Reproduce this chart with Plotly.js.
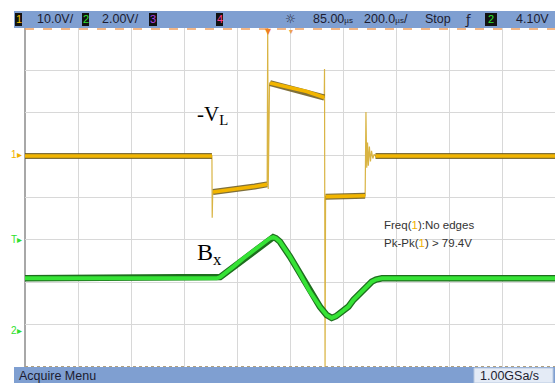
<!DOCTYPE html>
<html>
<head>
<meta charset="utf-8">
<script src="https://cdn.plot.ly/plotly-3.0.1.min.js"></script>
<style>html,body{margin:0;padding:0;background:#fff;}#chart{width:555px;height:383px;}</style>
</head>
<body>
<div id="chart"></div>
<script>
// Time axis in microseconds (200 us/div, delay 85 us)
// Channel 1 (-V_L), 10 V/div : flat levels (thick trace)
const ch1LevelT = [-915, -211, null, -207, -150, -100, -50, -3, null, 8, 83, 146, 212, null, 217, 300, 366, null, 405, 1081];
const ch1LevelV = [-0.2, -0.2, null, -8.7, -8.3, -7.9, -7.4, -6.9, null, 17.0, 15.8, 15.0, 13.6, null, -9.8, -9.7, -9.6, null, -0.2, -0.2];
// Channel 1 full path incl. switching edges and spikes (thin trace)
const ch1EdgeT = [-915, -211, -210, -208, -3, -1, 1, 6, 212, 213, 215, 217, 366, 369, 372, 375, 378, 382, 386, 390, 395, 400, 405, 1081];
const ch1EdgeV = [-0.2, -0.2, -14.8, -8.7, -6.9, 30, -8.0, 17.0, 13.6, 20.3, -50, -9.8, -9.6, 10.2, -3.0, 3.0, -2.5, 2.0, -1.5, 1.0, -0.8, 0.2, -0.2, -0.2];
// Channel 2 (B_x), 2 V/div
const ch2T = [-915, -193, -180, -169, -150, -130, -93, -42, -5, 8, 20, 30, 45, 83, 121, 158, 196, 221, 240, 256, 271, 303, 322, 359, 391, 407, 429, 1081];
const ch2V = [2.44, 2.44, 2.50, 2.60, 2.78, 2.99, 3.38, 3.86, 4.21, 4.33, 4.38, 4.33, 4.17, 3.46, 2.64, 1.81, 1.09, 0.71, 0.57, 0.65, 0.79, 1.10, 1.42, 1.89, 2.28, 2.38, 2.44, 2.44];

const headerLeft = ["10.0V/", "2.00V/"];
const headerRight = ["85.00<span style='font-size:8px'>µs</span>", "200.0<span style='font-size:8px'>µs</span>/", "Stop", "4.10V"];
const measurements = ["Freq(<span style='color:#f0b000'>1</span>):No edges", "Pk-Pk(<span style='color:#f0b000'>1</span>) > 79.4V"];

// pixel -> paper helpers (layout only)
const L = 25, R = 555, T = 28, B = 367;
const px = x => (x - L) / (R - L);
const py = y => (B - y) / (B - T);

const YEL = '#f2b500', GRN = '#36e336', BAR = '#7f9fd1';

const traces = [
  {x: ch1EdgeT, y: ch1EdgeV, mode: 'lines', line: {color: '#d9b443', width: 1.2}, yaxis: 'y', hoverinfo: 'skip'},
  {x: ch1LevelT, y: ch1LevelV, mode: 'lines', line: {color: '#6b5818', width: 6}, opacity: 0.85, yaxis: 'y', hoverinfo: 'skip', connectgaps: false},
  {x: ch1LevelT, y: ch1LevelV, mode: 'lines', line: {color: YEL, width: 3.6}, yaxis: 'y', hoverinfo: 'skip', connectgaps: false},
  {x: ch2T, y: ch2V, mode: 'lines', line: {color: '#1e6e1e', width: 6.5}, yaxis: 'y2', hoverinfo: 'skip'},
  {x: ch2T, y: ch2V, mode: 'lines', line: {color: GRN, width: 4}, yaxis: 'y2', hoverinfo: 'skip'}
];

const font = {family: 'Liberation Sans, Arial, sans-serif', size: 12.5, color: '#1c1c30'};
const ann = [];
function txt(x, y, text, opts) {
  ann.push(Object.assign({xref: 'paper', yref: 'paper', x: px(x), y: py(y), text: text, showarrow: false,
    xanchor: 'left', yanchor: 'middle', font: font}, opts || {}));
}
// header
txt(35, 19.5, headerLeft[0]);
txt(100, 19.5, headerLeft[1]);
txt(290, 19.5, '☼', {xanchor: 'center', font: {family: 'DejaVu Sans', size: 12, color: '#2a2a3a'}});
txt(311, 19.5, headerRight[0]);
txt(362, 19.5, headerRight[1]);
txt(423, 19.5, headerRight[2]);
txt(468, 19.5, 'ƒ', {xanchor: 'center', font: {family: 'DejaVu Sans', size: 13, color: '#1c1c30'}});
txt(514, 19.5, headerRight[3]);
// channel boxes labels
const boxes = [[15, 22, '1', '#f2c200'], [82, 89, '2', '#30e030'], [149, 157, '3', '#b040e0'], [216, 223, '4', '#ff3c8c'], [485, 497, '2', '#30e030']];
const shapes = [];
function rect(x0, y0, x1, y1, fill, lineColor, layer) {
  shapes.push({type: 'rect', xref: 'paper', yref: 'paper', x0: px(x0), x1: px(x1), y0: py(y1), y1: py(y0),
    fillcolor: fill, line: {width: lineColor ? 1 : 0, color: lineColor || fill}, layer: layer || 'above'});
}
// header and footer bars
rect(14, 11, 555, 28, BAR, null, 'below');
rect(14, 367, 555, 383, BAR, null, 'below');
rect(474, 368, 553, 383, '#e4ebf6', '#b8c8e0', 'below');
boxes.forEach(b => {
  rect(b[0], 13, b[1], 26, '#111111', null, 'below');
  txt((b[0] + b[1]) / 2, 19.5, b[2], {xanchor: 'center', font: {family: 'Liberation Sans, Arial', size: 11, color: b[3]}});
});
// footer text
txt(17, 375.5, 'Acquire Menu');
txt(478, 375.5, '1.00GSa/s');
// left border of screen
shapes.push({type: 'line', xref: 'paper', yref: 'paper', x0: px(25), x1: px(25), y0: 0, y1: 1, line: {color: '#a8a8a8', width: 2}, layer: 'below'});
// orange dashed reference line below header
shapes.push({type: 'line', xref: 'paper', yref: 'paper', x0: 0, x1: 1, y0: py(29), y1: py(29), line: {color: '#f0a060', width: 1.5, dash: 'dash'}});
// bottom border dashes
shapes.push({type: 'line', xref: 'paper', yref: 'paper', x0: 0, x1: 1, y0: py(366.5), y1: py(366.5), line: {color: '#b0a080', width: 1, dash: 'dot'}});
// top markers
txt(268, 31, '▼', {xanchor: 'center', font: {family: 'DejaVu Sans', size: 8, color: '#f08020'}});
txt(291, 31, '▾', {xanchor: 'center', font: {family: 'DejaVu Sans', size: 8, color: '#f0a050'}});
// ground / trigger markers
txt(24, 154, '1▸', {xanchor: 'right', font: {family: 'Liberation Sans, Arial', size: 10, color: '#f0b000'}});
txt(24, 240, 'T▸', {xanchor: 'right', font: {family: 'Liberation Sans, Arial', size: 10, color: '#30e030'}});
txt(24, 330, '2▸', {xanchor: 'right', font: {family: 'Liberation Sans, Arial', size: 10, color: '#30e030'}});
// measurements
txt(382, 225, measurements[0], {font: {family: 'Liberation Sans, Arial', size: 11.5, color: '#333333'}});
txt(382, 243, measurements[1], {font: {family: 'Liberation Sans, Arial', size: 11.5, color: '#333333'}});
// signal labels
txt(195, 115, '-V<sub>L</sub>', {font: {family: 'Liberation Serif, Times New Roman, serif', size: 21, color: '#000'}});
txt(195, 254, 'B<sub>x</sub>', {font: {family: 'Liberation Serif, Times New Roman, serif', size: 24, color: '#000'}});

const layout = {
  width: 555, height: 383,
  margin: {l: L, r: 555 - R, t: T, b: 383 - B, pad: 0},
  paper_bgcolor: '#ffffff', plot_bgcolor: '#ffffff',
  showlegend: false,
  xaxis: {range: [-915, 1081], tick0: 85, dtick: 200, showgrid: true, gridcolor: '#d8d8d8', gridwidth: 1,
    zeroline: false, showticklabels: false, ticks: '', showline: false, fixedrange: true},
  yaxis: {range: [-50, 30], tick0: 0, dtick: 10, showgrid: true, gridcolor: '#d8d8d8', gridwidth: 1,
    zeroline: false, showticklabels: false, ticks: '', showline: false, fixedrange: true},
  yaxis2: {range: [-1.746, 14.25], overlaying: 'y', visible: false, showgrid: false, zeroline: false, fixedrange: true},
  shapes: shapes,
  annotations: ann
};
Plotly.newPlot('chart', traces, layout, {displayModeBar: false, staticPlot: true});
</script>
</body>
</html>
